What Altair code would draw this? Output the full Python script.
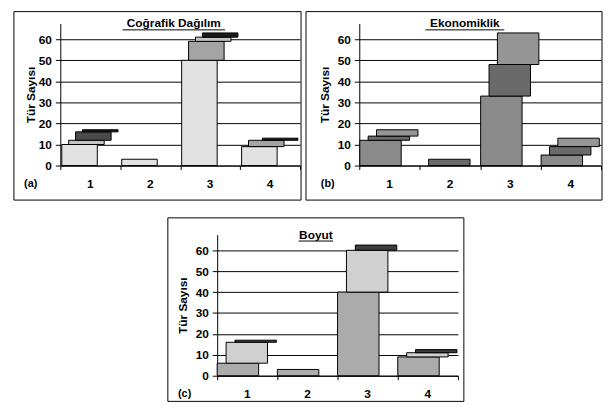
import altair as alt
import pandas as pd

categories = ["1", "2", "3", "4"]
y_ticks = [0, 10, 20, 30, 40, 50, 60]

# Panel (a) Coğrafik Dağılım
a_title = "Coğrafik Dağılım"
a_tag = "(a)"
a_cat = [1, 1, 1, 1, 2, 3, 3, 3, 3, 4, 4, 4]
a_level = [0, 1, 2, 3, 0, 0, 1, 2, 3, 0, 1, 3]
a_value = [10, 2, 4, 1, 3, 50, 9, 2, 2, 9, 3, 1]
a_pattern = ["dots", "smalldots", "darkhatch", "black", "dots",
             "dots", "wave", "smalldots", "black", "dots", "wave", "black"]

# Panel (b) Ekonomiklik
b_title = "Ekonomiklik"
b_tag = "(b)"
b_cat = [1, 1, 1, 2, 3, 3, 3, 4, 4, 4]
b_level = [0, 1, 2, 1, 0, 1, 2, 0, 1, 2]
b_value = [12, 2, 3, 3, 33, 15, 15, 5, 4, 4]
b_pattern = ["diag", "checker", "hlines", "checker", "diag", "checker", "hlines",
             "diag", "checker", "hlines"]

# Panel (c) Boyut
c_title = "Boyut"
c_tag = "(c)"
c_cat = [1, 1, 1, 2, 3, 3, 3, 4, 4, 4]
c_level = [0, 1, 2, 0, 0, 1, 2, 0, 1, 2]
c_value = [6, 10, 1, 3, 40, 20, 2.5, 9, 2, 1.5]
c_pattern = ["zigzag", "lighthatch", "darkdots", "zigzag", "zigzag", "lighthatch",
             "darkdots", "zigzag", "lighthatch", "darkdots"]

# style: grey tones standing in for the black/white fill patterns
shade = {
    "dots": "#e2e2e2", "smalldots": "#c4c4c4", "darkhatch": "#4a4a4a",
    "wave": "#a4a4a4", "black": "#1a1a1a",
    "diag": "#8a8a8a", "checker": "#6a6a6a", "hlines": "#959595",
    "zigzag": "#ababab", "lighthatch": "#d0d0d0", "darkdots": "#3c3c3c",
}
pat_domain = list(shade.keys())
pat_range = [shade[p] for p in pat_domain]

FONT = "Arial"


def panel(cat, level, value, pattern, title, tag, W, H, bar_w, step, start,
          title_x, title_w, bl, br, bt, bb, title_pad, tag_x):
    df = pd.DataFrame({"cat": cat, "level": level, "value": value, "pattern": pattern})
    bw = W / 4.0
    xscale = alt.Scale(domain=[0, 4], nice=False, zero=False)
    xaxis = alt.Axis(values=[0, 1, 2, 3, 4], labels=False, grid=False, domainColor="black",
                     tickColor="black", tickSize=4, title=None)
    yaxis = alt.Axis(values=y_ticks, grid=True, gridColor="black", gridWidth=1,
                     domainColor="black", tickColor="black", tickSize=5, labelPadding=4,
                     labelFontWeight="bold", labelFontSize=12, labelColor="black",
                     title="Tür Sayısı", titleFontSize=12, titleFontWeight="bold",
                     titleColor="black", titlePadding=title_pad)
    bars = alt.Chart(df).transform_stack(
        stack="value", groupby=["cat"], as_=["y0", "y1"],
        sort=[alt.SortField("level", order="ascending")]
    ).transform_calculate(
        x0=f"datum.cat - 1 + ({start} + datum.level * {step}) / {bw}",
        x1=f"datum.cat - 1 + ({start} + datum.level * {step} + {bar_w}) / {bw}",
    ).mark_rect(stroke="black", strokeWidth=1).encode(
        x=alt.X("x0:Q", scale=xscale, axis=xaxis),
        x2="x1:Q",
        y=alt.Y("y0:Q", scale=alt.Scale(domain=[0, 67.5], nice=False), axis=yaxis),
        y2="y1:Q",
        fill=alt.Fill("pattern:N", scale=alt.Scale(domain=pat_domain, range=pat_range),
                      legend=None),
    )
    labels = alt.Chart(pd.DataFrame({"cat": categories})).transform_calculate(
        pos="toNumber(datum.cat) - 0.5"
    ).mark_text(fontWeight="bold", fontSize=12, baseline="middle", color="black").encode(
        x=alt.X("pos:Q", scale=xscale, axis=xaxis),
        y=alt.value(H + 19),
        text="cat:N",
    )
    one = pd.DataFrame({"t": [title], "g": [tag]})
    tag_mark = alt.Chart(one).mark_text(fontWeight="bold", fontSize=11, baseline="middle",
                                        color="black").encode(
        x=alt.value(tag_x), y=alt.value(H + 19), text="g:N")
    title_mark = alt.Chart(one).mark_text(fontWeight="bold", fontSize=12, baseline="alphabetic",
                                          color="black").encode(
        x=alt.value(title_x), y=alt.value(4), text="t:N")
    underline = alt.Chart(one).mark_rule(color="black", strokeWidth=1).encode(
        x=alt.value(title_x - title_w / 2), x2=alt.value(title_x + title_w / 2), y=alt.value(6.5))
    border = alt.Chart(one).mark_rect(fill="transparent", stroke="black", strokeWidth=1).encode(
        x=alt.value(bl), x2=alt.value(br), y=alt.value(bt), y2=alt.value(bb))
    return alt.layer(bars, labels, tag_mark, title_mark, underline, border).properties(
        width=W, height=H)


pa = panel(a_cat, a_level, a_value, a_pattern, a_title, a_tag, 243, 144, 36, 7, 1.5,
           115, 104, -47, 244, -12, 179, 1, -30)
pb = panel(b_cat, b_level, b_value, b_pattern, b_title, b_tag, 245, 144, 42, 8.5, 0.5,
           107, 80, -54, 246, -12, 179, 6, -32)
pc = panel(c_cat, c_level, c_value, c_pattern, c_title, c_tag, 244, 143, 42, 9, 0,
           100, 35, -50, 250, -17, 169, 6, -33)

# invisible layout spacer that pushes panel (c) to the right
spacer = alt.Chart(pd.DataFrame({"v": [0]})).mark_rule(opacity=0).encode(
    x=alt.value(0), y=alt.value(0), y2=alt.value(1)).properties(width=108, height=1)

top = alt.hconcat(pa, pb, spacing=3)
bottom = alt.hconcat(spacer, pc, spacing=0)

chart = alt.vconcat(top, bottom, spacing=16).properties(
    padding={"left": 5, "top": 0, "right": 0, "bottom": 0}
).configure_view(strokeWidth=0).configure_axis(
    labelFont=FONT, titleFont=FONT
).configure_text(font=FONT)

chart.save("out.html", embed_options={"renderer": "svg", "actions": False})
